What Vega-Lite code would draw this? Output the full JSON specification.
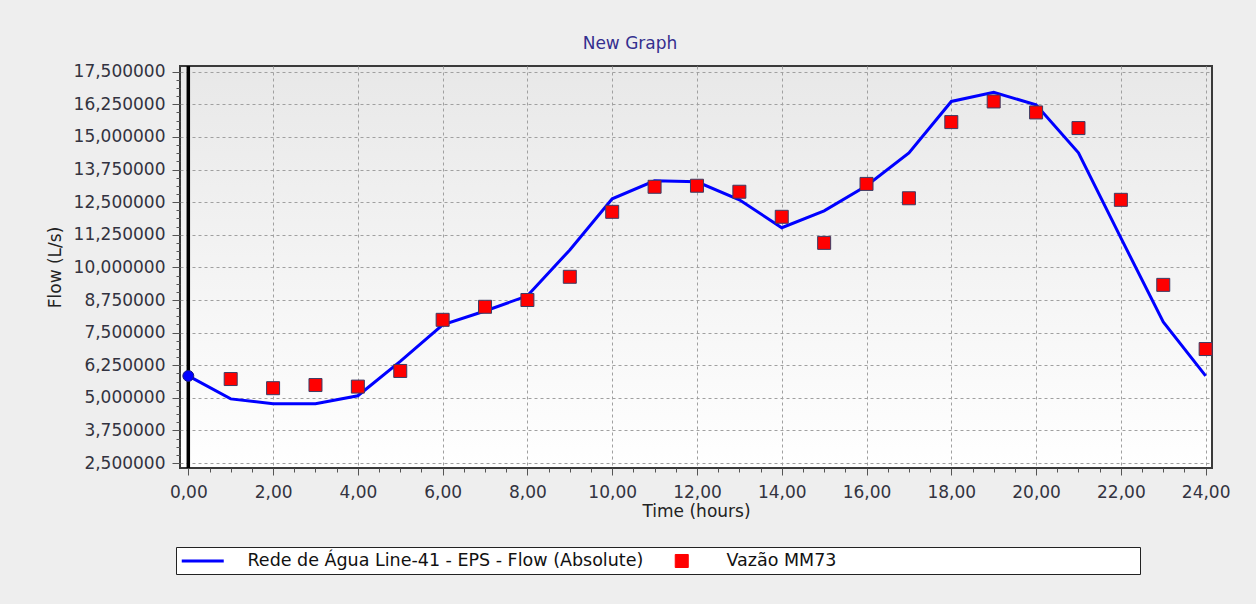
{
  "$schema": "https://vega.github.io/schema/vega-lite/v6.json",
  "width": 1032,
  "height": 402,
  "autosize": {"type": "none"},
  "padding": {"left": 180, "top": 66, "right": 44, "bottom": 136},
  "background": "#eeeeee",
  "title": {
    "text": "New Graph",
    "anchor": "middle",
    "dx": -66,
    "offset": 6,
    "font": "DejaVu Sans",
    "fontSize": 17,
    "fontWeight": "normal",
    "color": "#352f8f"
  },
  "datasets": {
    "sim": [
      {"hour": 0, "flow": 5.84, "series": "Rede de Água Line-41 - EPS - Flow (Absolute)"},
      {"hour": 1, "flow": 4.96, "series": "Rede de Água Line-41 - EPS - Flow (Absolute)"},
      {"hour": 2, "flow": 4.77, "series": "Rede de Água Line-41 - EPS - Flow (Absolute)"},
      {"hour": 3, "flow": 4.77, "series": "Rede de Água Line-41 - EPS - Flow (Absolute)"},
      {"hour": 4, "flow": 5.08, "series": "Rede de Água Line-41 - EPS - Flow (Absolute)"},
      {"hour": 5, "flow": 6.4, "series": "Rede de Água Line-41 - EPS - Flow (Absolute)"},
      {"hour": 6, "flow": 7.8, "series": "Rede de Água Line-41 - EPS - Flow (Absolute)"},
      {"hour": 7, "flow": 8.33, "series": "Rede de Água Line-41 - EPS - Flow (Absolute)"},
      {"hour": 8, "flow": 8.91, "series": "Rede de Água Line-41 - EPS - Flow (Absolute)"},
      {"hour": 9, "flow": 10.67, "series": "Rede de Água Line-41 - EPS - Flow (Absolute)"},
      {"hour": 10, "flow": 12.63, "series": "Rede de Água Line-41 - EPS - Flow (Absolute)"},
      {"hour": 11, "flow": 13.32, "series": "Rede de Água Line-41 - EPS - Flow (Absolute)"},
      {"hour": 12, "flow": 13.28, "series": "Rede de Água Line-41 - EPS - Flow (Absolute)"},
      {"hour": 13, "flow": 12.59, "series": "Rede de Água Line-41 - EPS - Flow (Absolute)"},
      {"hour": 14, "flow": 11.52, "series": "Rede de Água Line-41 - EPS - Flow (Absolute)"},
      {"hour": 15, "flow": 12.17, "series": "Rede de Água Line-41 - EPS - Flow (Absolute)"},
      {"hour": 16, "flow": 13.13, "series": "Rede de Água Line-41 - EPS - Flow (Absolute)"},
      {"hour": 17, "flow": 14.39, "series": "Rede de Água Line-41 - EPS - Flow (Absolute)"},
      {"hour": 18, "flow": 16.36, "series": "Rede de Água Line-41 - EPS - Flow (Absolute)"},
      {"hour": 19, "flow": 16.71, "series": "Rede de Água Line-41 - EPS - Flow (Absolute)"},
      {"hour": 20, "flow": 16.23, "series": "Rede de Água Line-41 - EPS - Flow (Absolute)"},
      {"hour": 21, "flow": 14.39, "series": "Rede de Água Line-41 - EPS - Flow (Absolute)"},
      {"hour": 22, "flow": 11.13, "series": "Rede de Água Line-41 - EPS - Flow (Absolute)"},
      {"hour": 23, "flow": 7.91, "series": "Rede de Água Line-41 - EPS - Flow (Absolute)"},
      {"hour": 24, "flow": 5.84, "series": "Rede de Água Line-41 - EPS - Flow (Absolute)"}
    ],
    "obs": [
      {"hour": 1, "flow": 5.72, "series": "Vazão MM73"},
      {"hour": 2, "flow": 5.37, "series": "Vazão MM73"},
      {"hour": 3, "flow": 5.49, "series": "Vazão MM73"},
      {"hour": 4, "flow": 5.43, "series": "Vazão MM73"},
      {"hour": 5, "flow": 6.03, "series": "Vazão MM73"},
      {"hour": 6, "flow": 7.99, "series": "Vazão MM73"},
      {"hour": 7, "flow": 8.49, "series": "Vazão MM73"},
      {"hour": 8, "flow": 8.75, "series": "Vazão MM73"},
      {"hour": 9, "flow": 9.64, "series": "Vazão MM73"},
      {"hour": 10, "flow": 12.13, "series": "Vazão MM73"},
      {"hour": 11, "flow": 13.09, "series": "Vazão MM73"},
      {"hour": 12, "flow": 13.13, "series": "Vazão MM73"},
      {"hour": 13, "flow": 12.9, "series": "Vazão MM73"},
      {"hour": 14, "flow": 11.94, "series": "Vazão MM73"},
      {"hour": 15, "flow": 10.94, "series": "Vazão MM73"},
      {"hour": 16, "flow": 13.2, "series": "Vazão MM73"},
      {"hour": 17, "flow": 12.65, "series": "Vazão MM73"},
      {"hour": 18, "flow": 15.57, "series": "Vazão MM73"},
      {"hour": 19, "flow": 16.36, "series": "Vazão MM73"},
      {"hour": 20, "flow": 15.94, "series": "Vazão MM73"},
      {"hour": 21, "flow": 15.34, "series": "Vazão MM73"},
      {"hour": 22, "flow": 12.59, "series": "Vazão MM73"},
      {"hour": 23, "flow": 9.33, "series": "Vazão MM73"},
      {"hour": 24, "flow": 6.87, "series": "Vazão MM73"}
    ],
    "cursor": [{"hour": 0, "flow": 2.31}, {"hour": 0, "flow": 17.72}]
  },
  "encoding": {
    "x": {
      "field": "hour",
      "type": "quantitative",
      "scale": {"domain": [-0.196, 24.15], "nice": false, "zero": false},
      "axis": {
        "title": "Time (hours)",
        "values": [0,0.5,1,1.5,2,2.5,3,3.5,4,4.5,5,5.5,6,6.5,7,7.5,8,8.5,9,9.5,10,10.5,11,11.5,12,12.5,13,13.5,14,14.5,15,15.5,16,16.5,17,17.5,18,18.5,19,19.5,20,20.5,21,21.5,22,22.5,23,23.5,24],
        "labelExpr": "datum.value % 2 == 0 ? replace(format(datum.value, '.2f'), '.', ',') : ''",
        "tickSize": {"condition": {"test": "datum.value % 2 == 0", "value": 7}, "value": 4},
        "gridOpacity": {"condition": {"test": "datum.value % 2 == 0", "value": 1}, "value": 0},
        "labelPadding": 9,
        "titlePadding": 3,
        "labelOverlap": false,
        "labelFlush": false
      }
    },
    "y": {
      "field": "flow",
      "type": "quantitative",
      "scale": {"domain": [2.31, 17.72], "nice": false, "zero": false},
      "axis": {
        "title": "Flow (L/s)",
        "values": [2.5,2.8125,3.125,3.4375,3.75,4.0625,4.375,4.6875,5,5.3125,5.625,5.9375,6.25,6.5625,6.875,7.1875,7.5,7.8125,8.125,8.4375,8.75,9.0625,9.375,9.6875,10,10.3125,10.625,10.9375,11.25,11.5625,11.875,12.1875,12.5,12.8125,13.125,13.4375,13.75,14.0625,14.375,14.6875,15,15.3125,15.625,15.9375,16.25,16.5625,16.875,17.1875,17.5],
        "labelExpr": "abs((datum.value - 2.5) / 1.25 - round((datum.value - 2.5) / 1.25)) < 0.001 ? replace(format(datum.value, '.6f'), '.', ',') : ''",
        "tickSize": {"condition": {"test": "abs((datum.value - 2.5) / 1.25 - round((datum.value - 2.5) / 1.25)) < 0.001", "value": 8}, "value": 4},
        "gridOpacity": {"condition": {"test": "abs((datum.value - 2.5) / 1.25 - round((datum.value - 2.5) / 1.25)) < 0.001", "value": 1}, "value": 0},
        "labelPadding": 7,
        "titlePadding": 9,
        "labelOverlap": false,
        "labelFlush": false
      }
    }
  },
  "layer": [
    {
      "data": {"name": "cursor"},
      "mark": {"type": "line", "color": "#000000", "strokeWidth": 3.5},
      "encoding": {}
    },
    {
      "data": {"name": "sim"},
      "mark": {"type": "line", "strokeWidth": 3},
      "encoding": {
        "color": {
          "field": "series",
          "type": "nominal",
          "scale": {"domain": ["Rede de Água Line-41 - EPS - Flow (Absolute)", "Vazão MM73"], "range": ["#0000ff", "#ff0000"]},
          "legend": {
            "title": null,
            "encode": {
              "symbols": {
                "update": {
                  "shape": {"signal": "datum.value == 'Vazão MM73' ? 'M-0.31,-0.31H0.31V0.31H-0.31ZM21.5,0' : 'stroke'"},
                  "size": {"value": 1764},
                  "fill": {"signal": "datum.value == 'Vazão MM73' ? '#ff0000' : 'transparent'"},
                  "stroke": {"signal": "datum.value == 'Vazão MM73' ? '#3c3c64' : '#0000ff'"},
                  "strokeWidth": {"signal": "datum.value == 'Vazão MM73' ? 1 : 3"},
                  "opacity": {"value": 1},
                  "y": {"value": 9.5}
                }
              },
              "labels": {
                "update": {
                  "y": {"value": 9.5}
                }
              }
            }
          }
        }
      }
    },
    {
      "data": {"name": "sim"},
      "transform": [{"filter": "datum.hour == 0"}],
      "mark": {"type": "point", "shape": "circle", "filled": true, "fill": "#0000ff", "stroke": "#1a1a80", "strokeWidth": 1, "size": 120, "opacity": 1}
    },
    {
      "data": {"name": "obs"},
      "mark": {"type": "point", "shape": "square", "filled": true, "stroke": "#3c3c64", "strokeWidth": 1, "size": 169, "opacity": 1},
      "encoding": {
        "color": {"field": "series", "type": "nominal"}
      }
    }
  ],
  "config": {
    "font": "DejaVu Sans",
    "view": {
      "stroke": "#3a3a3a",
      "strokeWidth": 2,
      "fill": {"gradient": "linear", "x1": 0, "y1": 0, "x2": 0, "y2": 1, "stops": [{"offset": 0, "color": "#e8e8e8"}, {"offset": 1, "color": "#ffffff"}]}
    },
    "axis": {
      "domain": false,
      "grid": true,
      "gridColor": "#a0a0a0",
      "gridDash": [3, 3],
      "gridWidth": 1,
      "tickColor": "#555555",
      "labelFont": "DejaVu Sans",
      "labelFontSize": 17,
      "labelColor": "#333340",
      "titleFont": "DejaVu Sans",
      "titleFontSize": 17,
      "titleFontWeight": "normal",
      "titleColor": "#222222"
    },
    "legend": {
      "orient": "none",
      "legendX": -4,
      "legendY": 481,
      "direction": "horizontal",
      "fillColor": "#ffffff",
      "strokeColor": "#222222",
      "padding": 4,
      "labelFont": "DejaVu Sans",
      "labelFontSize": 17.5,
      "labelColor": "#111111",
      "labelLimit": 600,
      "symbolType": "stroke",
      "symbolSize": 1764,
      "symbolStrokeWidth": 3,
      "symbolOffset": 14,
      "labelOffset": 36,
      "columnPadding": 15
    }
  }
}
